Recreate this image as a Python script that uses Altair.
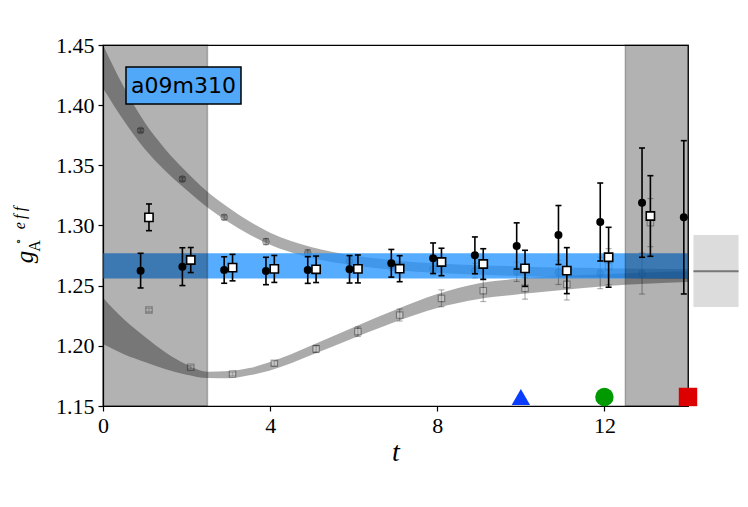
import altair as alt
import pandas as pd

# ---- data ----
circ_t = [0.9, 1.9, 2.9, 3.9, 4.9, 5.9, 6.9, 7.9, 8.9, 9.9, 10.9, 11.9, 12.9, 13.9]
circ_y = [1.2625, 1.2658, 1.2630, 1.2622, 1.2630, 1.2636, 1.2686, 1.2728, 1.2752, 1.2830, 1.2921, 1.3029, 1.3190, 1.3068]
circ_err = [0.0144, 0.0157, 0.0110, 0.0114, 0.0111, 0.0114, 0.0115, 0.0127, 0.0153, 0.0192, 0.0245, 0.0324, 0.0454, 0.0637]

sq_t = [1.1, 2.1, 3.1, 4.1, 5.1, 6.1, 7.1, 8.1, 9.1, 10.1, 11.1, 12.1, 13.1]
sq_y = [1.3068, 1.2713, 1.2650, 1.2639, 1.2636, 1.2639, 1.2641, 1.2697, 1.2680, 1.2644, 1.2625, 1.2736, 1.3079]
sq_err = [0.0111, 0.0104, 0.0110, 0.0112, 0.0110, 0.0116, 0.0108, 0.0114, 0.0127, 0.0150, 0.0191, 0.0249, 0.0335]

fc_t = [0.9, 1.9, 2.9, 3.9, 4.9, 5.9, 6.9, 7.9, 8.9, 9.9, 10.9, 11.9, 12.9]
fc_y = [1.3790, 1.3386, 1.3068, 1.2866, 1.2770, 1.2705, 1.2668, 1.2640, 1.2625, 1.2615, 1.2610, 1.2605, 1.2600]
fc_err = [0.0015, 0.0018, 0.0020, 0.0025, 0.0030, 0.0035, 0.0040, 0.0050, 0.0060, 0.0080, 0.0100, 0.0130, 0.0170]

fs_t = [1.1, 2.1, 3.1, 4.1, 5.1, 6.1, 7.1, 8.1, 9.1, 10.1, 11.1, 12.1, 13.1]
fs_y = [1.2298, 1.1822, 1.1766, 1.1855, 1.1974, 1.2118, 1.2256, 1.2395, 1.2458, 1.2478, 1.2511, 1.2658, 1.3024]
fs_err = [0.0015, 0.0015, 0.0015, 0.0020, 0.0030, 0.0040, 0.0050, 0.0070, 0.0090, 0.0090, 0.0130, 0.0150, 0.0200]

band_t = [0, 0.5, 1, 1.5, 2, 2.5, 3, 3.5, 4, 5, 6, 7, 8, 9, 10, 11, 12, 13, 14]
up_lo = [1.4140, 1.3870, 1.3635, 1.3450, 1.3295, 1.3150, 1.3030, 1.2925, 1.2840, 1.2730, 1.2670, 1.2630, 1.2605, 1.2590, 1.2580, 1.2570, 1.2565, 1.2560, 1.2558]
up_hi = [1.4500, 1.4150, 1.3855, 1.3630, 1.3445, 1.3280, 1.3150, 1.3035, 1.2940, 1.2820, 1.2750, 1.2710, 1.2685, 1.2670, 1.2660, 1.2650, 1.2645, 1.2640, 1.2638]
low_lo = [1.2015, 1.1930, 1.1865, 1.1805, 1.1760, 1.1732, 1.1730, 1.1755, 1.1795, 1.1925, 1.2065, 1.2200, 1.2315, 1.2390, 1.2430, 1.2465, 1.2495, 1.2515, 1.2530]
low_hi = [1.2400, 1.2220, 1.2075, 1.1945, 1.1845, 1.1785, 1.1790, 1.1815, 1.1865, 1.2005, 1.2155, 1.2300, 1.2430, 1.2520, 1.2560, 1.2580, 1.2595, 1.2610, 1.2620]

plateau = [1.2560, 1.2770]
excl_start = [0.0, 12.5]
excl_end = [2.5, 14.0]

mark_t = [10, 12, 14]
mark_y = [1.1575, 1.1575, 1.1575]
mark_shape = ["triangle-up", "circle", "square"]
mark_color = ["#0a3cff", "#009a00", "#dd0000"]

side_t = [14.13, 15.21]
side_y = [1.2323, 1.2921]
side_mid = 1.262

label_text = ["a09m310"]
ytitle_parts = ["g", "A", "e\u2009f\u2009f", "\u2218"]
x_ticks = [0, 4, 8, 12]
y_ticks = [1.15, 1.20, 1.25, 1.30, 1.35, 1.40, 1.45]

XS = alt.Scale(domain=[0, 14], nice=False, zero=False)
YS = alt.Scale(domain=[1.15, 1.45], nice=False, zero=False)
XA = alt.Axis(values=x_ticks, format="d", title="t", labelFlush=False)
YA = alt.Axis(values=y_ticks, format=".2f", title="", labelFlush=False)
SERIF = "Liberation Serif"


def pts(tt, yy, ee):
    return pd.DataFrame({"t": tt, "y": yy,
                         "lo": [a - b for a, b in zip(yy, ee)],
                         "hi": [a + b for a, b in zip(yy, ee)]})


circ = pts(circ_t, circ_y, circ_err)
sq = pts(sq_t, sq_y, sq_err)
fc = pts(fc_t, fc_y, fc_err)
fs = pts(fs_t, fs_y, fs_err)
bands = pd.DataFrame({"t": band_t, "ulo": up_lo, "uhi": up_hi, "llo": low_lo, "lhi": low_hi})


def X(f="t"):
    return alt.X(f + ":Q", scale=XS, axis=XA)


def Y(f):
    return alt.Y(f + ":Q", scale=YS, axis=YA)


# curves
upper = alt.Chart(bands).mark_area(color="black", opacity=0.33, interpolate="monotone", clip=True).encode(
    x=X(), y=Y("ulo"), y2="uhi:Q")
lower = alt.Chart(bands).mark_area(color="black", opacity=0.33, interpolate="monotone", clip=True).encode(
    x=X(), y=Y("llo"), y2="lhi:Q")


def errbars(df, color, opacity, width):
    r = alt.Chart(df).mark_rule(color=color, opacity=opacity, strokeWidth=width).encode(
        x=X(), y=Y("lo"), y2="hi:Q")
    c1 = alt.Chart(df).mark_tick(color=color, opacity=opacity, orient="horizontal", size=6, thickness=width).encode(
        x=X(), y=Y("lo"))
    c2 = alt.Chart(df).mark_tick(color=color, opacity=opacity, orient="horizontal", size=6, thickness=width).encode(
        x=X(), y=Y("hi"))
    return [r, c1, c2]


faded = errbars(fc, "black", 0.3, 1.2) + errbars(fs, "black", 0.3, 1.2) + [
    alt.Chart(fc).mark_point(shape="circle", filled=True, fill="#444", stroke="black", strokeWidth=1,
                             size=45, opacity=0.35).encode(x=X(), y=Y("y")),
    alt.Chart(fs).mark_point(shape="square", filled=True, fill="white", stroke="black", strokeWidth=1.2,
                             size=42, opacity=0.3).encode(x=X(), y=Y("y")),
]

pl_df = pd.DataFrame({"x0": [0.0], "x1": [14.0], "y0": [plateau[0]], "y1": [plateau[1]]})
plateau_band = alt.Chart(pl_df).mark_rect(color="#1e90ff", opacity=0.75).encode(
    x=X("x0"), x2="x1:Q", y=Y("y0"), y2="y1:Q")

ex_df = pd.DataFrame({"a": excl_start, "b": excl_end, "y0": [1.15, 1.15], "y1": [1.45, 1.45]})
excl = alt.Chart(ex_df).mark_rect(fill="black", fillOpacity=0.3, stroke="black", strokeOpacity=0.25,
                                  strokeWidth=1.5).encode(x=X("a"), x2="b:Q", y=Y("y0"), y2="y1:Q")

main = errbars(circ, "black", 1.0, 1.6) + errbars(sq, "black", 1.0, 1.6) + [
    alt.Chart(circ).mark_point(shape="circle", filled=True, fill="black", size=64, opacity=1).encode(
        x=X(), y=Y("y")),
    alt.Chart(sq).mark_point(shape="square", filled=True, fill="white", stroke="black", strokeWidth=1.6,
                             size=68, opacity=1).encode(x=X(), y=Y("y")),
]

mk_df = pd.DataFrame({"t": mark_t, "y": mark_y, "shape": mark_shape, "color": mark_color})
markers = alt.Chart(mk_df).mark_point(filled=True, size=340, opacity=1, clip=False).encode(
    x=X(), y=Y("y"),
    shape=alt.Shape("shape:N", scale=None, legend=None),
    color=alt.Color("color:N", scale=None, legend=None))

sd_df = pd.DataFrame({"a": [side_t[0]], "b": [side_t[1]], "y0": [side_y[0]], "y1": [side_y[1]], "m": [side_mid]})
side_box = alt.Chart(sd_df).mark_rect(fill="#dcdcdc", clip=False).encode(x=X("a"), x2="b:Q", y=Y("y0"), y2="y1:Q")
side_line = alt.Chart(sd_df).mark_rule(color="#777777", strokeWidth=2.2, clip=False).encode(
    x=X("a"), x2="b:Q", y=Y("m"))

lab_df = pd.DataFrame({"label": label_text})
lab_box = alt.Chart(lab_df).mark_rect(fill="#52a8f8", stroke="black", strokeWidth=1.5).encode(
    x=alt.value(23), x2=alt.value(138), y=alt.value(22), y2=alt.value(59))
lab_txt = alt.Chart(lab_df).mark_text(font="DejaVu Sans", fontSize=22, color="black", align="center",
                                      baseline="middle").encode(
    x=alt.value(80.5), y=alt.value(41), text="label:N")

yt_df = pd.DataFrame({"s": ytitle_parts})


def ytext(i, x, y, size, style):
    return alt.Chart(yt_df.iloc[[i]]).mark_text(font=SERIF, fontStyle=style, fontSize=size, angle=270,
                                                align="center", baseline="middle", color="black").encode(
        x=alt.value(x), y=alt.value(y), text="s:N")


yt_g = ytext(0, -78, 212, 25, "italic")
yt_a = ytext(1, -68, 201, 16, "normal")
yt_e = ytext(2, -83, 173, 16, "italic")
yt_r = ytext(3, -84, 196, 11, "normal")

layers = [upper, lower] + faded + [plateau_band, excl] + main + [markers, side_box, side_line,
                                                                   lab_box, lab_txt, yt_g, yt_a, yt_e, yt_r]

chart = alt.layer(*layers).properties(
    width=585, height=361,
    autosize=alt.AutoSizeParams(type="none"),
    padding={"left": 95, "top": 37, "right": 52, "bottom": 94},
).configure_view(stroke="black", strokeWidth=1.2).configure_axis(
    grid=False, domainColor="black", domainWidth=1.2, tickColor="black", tickWidth=1.2, tickSize=5,
    labelFont=SERIF, labelFontSize=22, labelColor="black", labelPadding=4,
    titleFont=SERIF, titleFontSize=28, titleFontStyle="italic", titleFontWeight="normal", titleColor="black",
    titlePadding=2,
)

chart.save("out.html", embed_options={"renderer": "svg", "actions": False})
